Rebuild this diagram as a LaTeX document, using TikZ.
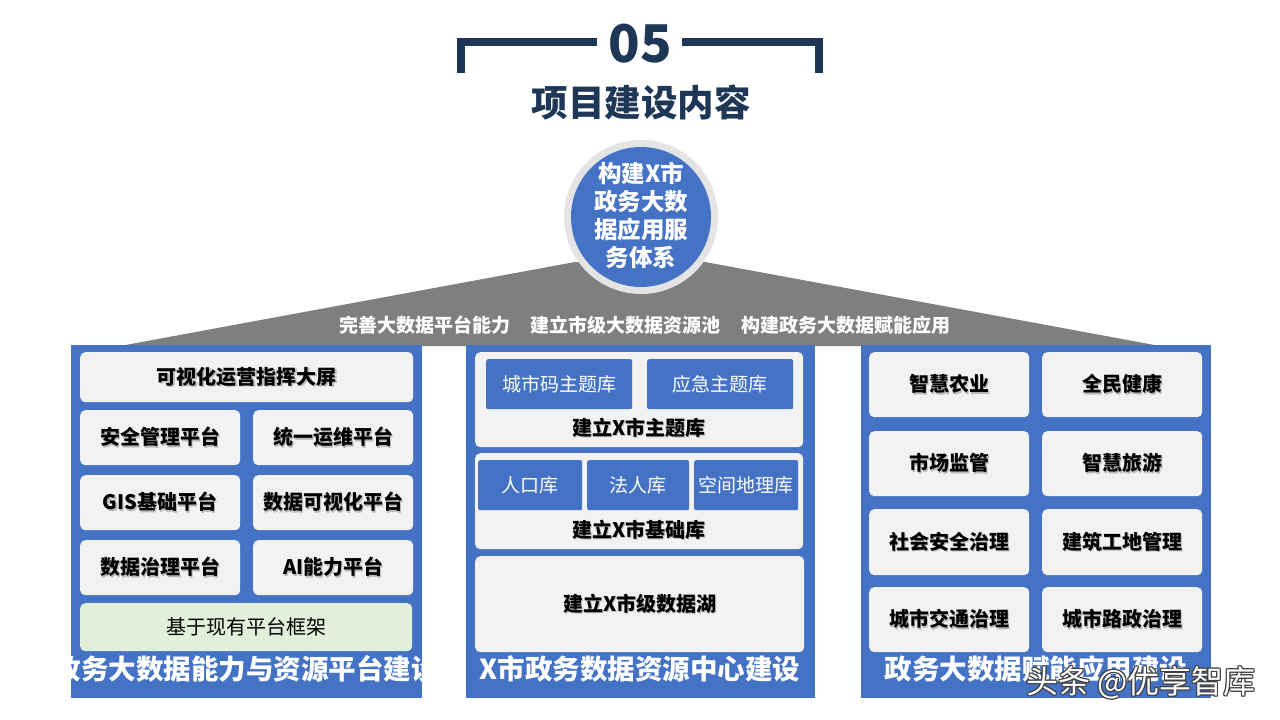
\documentclass[tikz,border=0pt]{standalone}
\usepackage{fontspec}
\setmainfont{Noto Sans CJK SC}
\definecolor{mblue}{HTML}{4472C4}
\definecolor{lgray}{HTML}{F2F2F2}
\definecolor{lgreen}{HTML}{E2EFDA}
\definecolor{navy}{HTML}{1F3756}
\definecolor{trap}{HTML}{7F7F7F}
\definecolor{ring}{HTML}{E4E4E4}
\newcommand\shd[1]{\makebox[0pt][l]{\kern1.3pt\raisebox{-1.3pt}{\textcolor{black!28}{#1}}}#1}
\tikzset{
  fsz/.style={font=\fontsize{#1}{#1}\selectfont},
  fbz/.style={font=\fontsize{#1}{#1}\selectfont\bfseries},
  panel/.style={fill=mblue, draw=none},
  lbox/.style={fill=lgray, draw=none, rounded corners=5pt, inner sep=0pt, anchor=north west, fbz=20, text=black},
  gbox/.style={fill=lgreen, draw=none, rounded corners=5pt, inner sep=0pt, anchor=north west, fsz=20, text=black},
  bbox/.style={fill=mblue, draw=none, rounded corners=2pt, inner sep=0pt, anchor=north west, fsz=19, text=white},
  wlabel/.style={text=white, fbz=19, inner sep=0pt},
  ptitle/.style={text=white, fbz=27.5, inner sep=0pt},
  glabel/.style={text=black, fbz=20, inner sep=0pt},
}
\begin{document}
\begin{tikzpicture}[x=1pt,y=-1pt]
\useasboundingbox (0,0) rectangle (1280,720);
\fill[white] (0,0) rectangle (1280,720);

% header
\draw[navy, line width=8pt] (461,73) -- (461,42) -- (597,42);
\draw[navy, line width=8pt] (682,42) -- (819,42) -- (819,73);
\node[text=navy, fbz=52, inner sep=0pt] (num) at (640,44) {05};
\node[text=navy, fbz=36.5, inner sep=0pt] (title) at (641,102) {项目建设内容};

% trapezoid
\fill[trap] (120,346) -- (575,262) -- (705,262) -- (1160,346) -- cycle;
\node[wlabel] (t1) at (425,325) {完善大数据平台能力};
\node[wlabel] (t2) at (625,325) {建立市级大数据资源池};
\node[wlabel] (t3) at (845.5,325) {构建政务大数据赋能应用};

% circle
\fill[ring] (641,217) circle (77);
\fill[mblue] (641,217) circle (70);
\node[text=white, align=center, inner sep=0pt, font=\fontsize{23.5}{28}\selectfont\bfseries] (core) at (641,215) {构建X市\\政务大数\\据应用服\\务体系};

% left panel
\fill[panel] (71,345) rectangle (422,698);
\node[lbox, minimum width=333pt, minimum height=50pt] (l1) at (80,352) {\shd{可视化运营指挥大屏}};
\node[lbox, minimum width=160pt, minimum height=55pt] (l2) at (80,410) {\shd{安全管理平台}};
\node[lbox, minimum width=160pt, minimum height=55pt] (l3) at (253,410) {\shd{统一运维平台}};
\node[lbox, minimum width=160pt, minimum height=55pt] (l4) at (80,475) {\shd{GIS基础平台}};
\node[lbox, minimum width=160pt, minimum height=55pt] (l5) at (253,475) {\shd{数据可视化平台}};
\node[lbox, minimum width=160pt, minimum height=55pt] (l6) at (80,540) {\shd{数据治理平台}};
\node[lbox, minimum width=160pt, minimum height=55pt] (l7) at (253,540) {\shd{AI能力平台}};
\node[gbox, minimum width=332pt, minimum height=48pt] (l8) at (80,603) {基于现有平台框架};
\node[ptitle] (lt) at (246,669) {政务大数据能力与资源平台建设};

% middle panel
\fill[panel] (466,345) rectangle (815,698);
\node[lbox, minimum width=328pt, minimum height=95pt] (g1) at (475,352) {};
\node[bbox, minimum width=146pt, minimum height=50pt] (m1) at (486,359) {城市码主题库};
\node[bbox, minimum width=146pt, minimum height=50pt] (m2) at (647,359) {应急主题库};
\node[glabel] (g1l) at (639,428) {\shd{建立X市主题库}};
\node[lbox, minimum width=328pt, minimum height=96pt] (g2) at (475,453) {};
\node[bbox, minimum width=104pt, minimum height=50pt] (m3) at (478,460) {人口库};
\node[bbox, minimum width=102pt, minimum height=50pt] (m4) at (587,460) {法人库};
\node[bbox, minimum width=104pt, minimum height=50pt] (m5) at (694,460) {空间地理库};
\node[glabel] (g2l) at (639,530) {\shd{建立X市基础库}};
\node[lbox, minimum width=329pt, minimum height=96pt] (g3) at (475,556) {\shd{建立X市级数据湖}};
\node[ptitle] (mt) at (640,669) {X市政务数据资源中心建设};

% right panel
\fill[panel] (861,345) rectangle (1211,698);
\node[lbox, minimum width=160pt, minimum height=65pt] (r1) at (869,352) {\shd{智慧农业}};
\node[lbox, minimum width=160pt, minimum height=65pt] (r2) at (1042,352) {\shd{全民健康}};
\node[lbox, minimum width=160pt, minimum height=65pt] (r3) at (869,431) {\shd{市场监管}};
\node[lbox, minimum width=160pt, minimum height=65pt] (r4) at (1042,431) {\shd{智慧旅游}};
\node[lbox, minimum width=160pt, minimum height=66pt] (r5) at (869,509) {\shd{社会安全治理}};
\node[lbox, minimum width=160pt, minimum height=66pt] (r6) at (1042,509) {\shd{建筑工地管理}};
\node[lbox, minimum width=160pt, minimum height=65pt] (r7) at (869,587) {\shd{城市交通治理}};
\node[lbox, minimum width=160pt, minimum height=65pt] (r8) at (1042,587) {\shd{城市路政治理}};
\node[ptitle] (rt) at (1036,669) {政务大数据赋能应用建设};

% watermark
\foreach \dx/\dy in {-1.2/0,1.2/0,0/-1.2,0/1.2,-0.9/-0.9,0.9/0.9,-0.9/0.9,0.9/-0.9}
  \node[text=black!75, fsz=32, inner sep=0pt] at (1141+\dx,683+\dy) {头条 @优享智库};
\node[text=white, fsz=32, inner sep=0pt] (wm) at (1141,683) {头条 @优享智库};
\end{tikzpicture}
\end{document}
